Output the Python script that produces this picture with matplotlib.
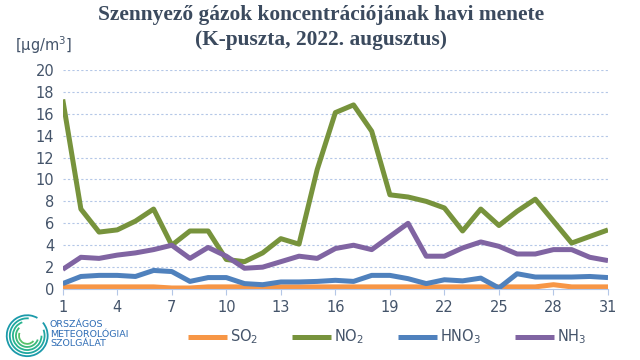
import matplotlib.pyplot as plt
import numpy as np
from matplotlib.patches import Arc

days = np.arange(1, 32)

so2 = [0.2, 0.2, 0.2, 0.2, 0.2, 0.2, 0.1, 0.1, 0.2, 0.2, 0.2, 0.2, 0.2, 0.2, 0.2,
       0.2, 0.2, 0.2, 0.2, 0.2, 0.2, 0.2, 0.2, 0.2, 0.2, 0.2, 0.2, 0.4, 0.2, 0.2, 0.2]
no2 = [17.3, 7.3, 5.2, 5.4, 6.2, 7.3, 4.0, 5.3, 5.3, 2.7, 2.5, 3.3, 4.6, 4.1, 10.9,
       16.1, 16.8, 14.4, 8.6, 8.4, 8.0, 7.4, 5.3, 7.3, 5.8, 7.1, 8.2, 6.2, 4.2, 4.8, 5.4]
hno3 = [0.5, 1.15, 1.25, 1.25, 1.15, 1.7, 1.6, 0.7, 1.05, 1.05, 0.5, 0.4, 0.65, 0.65, 0.7,
        0.8, 0.7, 1.25, 1.25, 0.95, 0.5, 0.85, 0.75, 1.0, 0.1, 1.4, 1.1, 1.1, 1.1, 1.15, 1.05]
nh3 = [1.8, 2.9, 2.8, 3.1, 3.3, 3.6, 4.0, 2.8, 3.8, 3.0, 1.9, 2.0, 2.5, 3.0, 2.8,
       3.7, 4.0, 3.6, 4.8, 6.0, 3.0, 3.0, 3.75, 4.3, 3.9, 3.2, 3.2, 3.6, 3.6, 2.9, 2.6]

series = [
    ("SO$_2$", so2, "#f79646"),
    ("NO$_2$", no2, "#77933c"),
    ("HNO$_3$", hno3, "#4f81bd"),
    ("NH$_3$", nh3, "#8064a2"),
]

text_col = "#44546a"

fig = plt.figure(figsize=(6.4, 3.6), dpi=100)
ax = fig.add_axes([0.098, 0.197, 0.852, 0.609])

for label, vals, col in series:
    ax.plot(days, vals, color=col, lw=3.6, label=label, solid_capstyle="butt")

ax.set_xlim(1, 31)
ax.set_ylim(0, 20)
ax.set_xticks(range(1, 32, 3))
ax.set_yticks(range(0, 21, 2))
ax.tick_params(axis="y", length=0, labelsize=10.5, labelcolor=text_col, pad=6)
ax.tick_params(axis="x", length=4, color="#b4c7e7", labelsize=10.5,
               labelcolor=text_col, pad=4)
ax.grid(axis="y", color="#b4c7e7", ls=(0, (2, 2)), lw=0.8)
ax.set_axisbelow(True)
for s in ["top", "right", "left"]:
    ax.spines[s].set_visible(False)
ax.spines["bottom"].set_color("#b4c7e7")

fig.text(0.502, 0.957, "Szennyező gázok koncentrációjának havi menete",
         ha="center", va="center", fontsize=15.4, fontweight="bold",
         family="Liberation Serif", color="#3b4a5e")
fig.text(0.502, 0.89, "(K-puszta, 2022. augusztus)",
         ha="center", va="center", fontsize=15.4, fontweight="bold",
         family="Liberation Serif", color="#3b4a5e")
fig.text(0.023, 0.875, "[μg/m$^3$]", ha="left", va="center",
         fontsize=10.5, color=text_col)

fig.legend(loc="center", bbox_to_anchor=(0.605, 0.064), ncol=4, frameon=False,
           fontsize=10.5, handlelength=2.65, columnspacing=2.3, handletextpad=0.25,
           labelcolor=text_col)

# logo
lax = fig.add_axes([0.005, 0.005, 0.075, 0.125])
lax.set_xlim(-1.1, 1.1)
lax.set_ylim(-1.1, 1.1)
lax.set_aspect("equal")
lax.axis("off")
swirl_cols = ["#1b9aaa", "#1fa7a0", "#27b38f", "#3ab97c", "#58c26a"]
for i, c in enumerate(swirl_cols):
    r = 2.0 - i * 0.3
    lax.add_patch(Arc((0, 0), r, r, theta1=60 + i * 25, theta2=400 - i * 20,
                      color=c, lw=1.3))
fig.text(0.078, 0.072, "ORSZÁGOS\nMETEOROLÓGIAI\nSZOLGÁLAT", ha="left",
         va="center", fontsize=6.8, color="#2f6db5", linespacing=1.1)

fig.savefig("out.png", dpi=100)
